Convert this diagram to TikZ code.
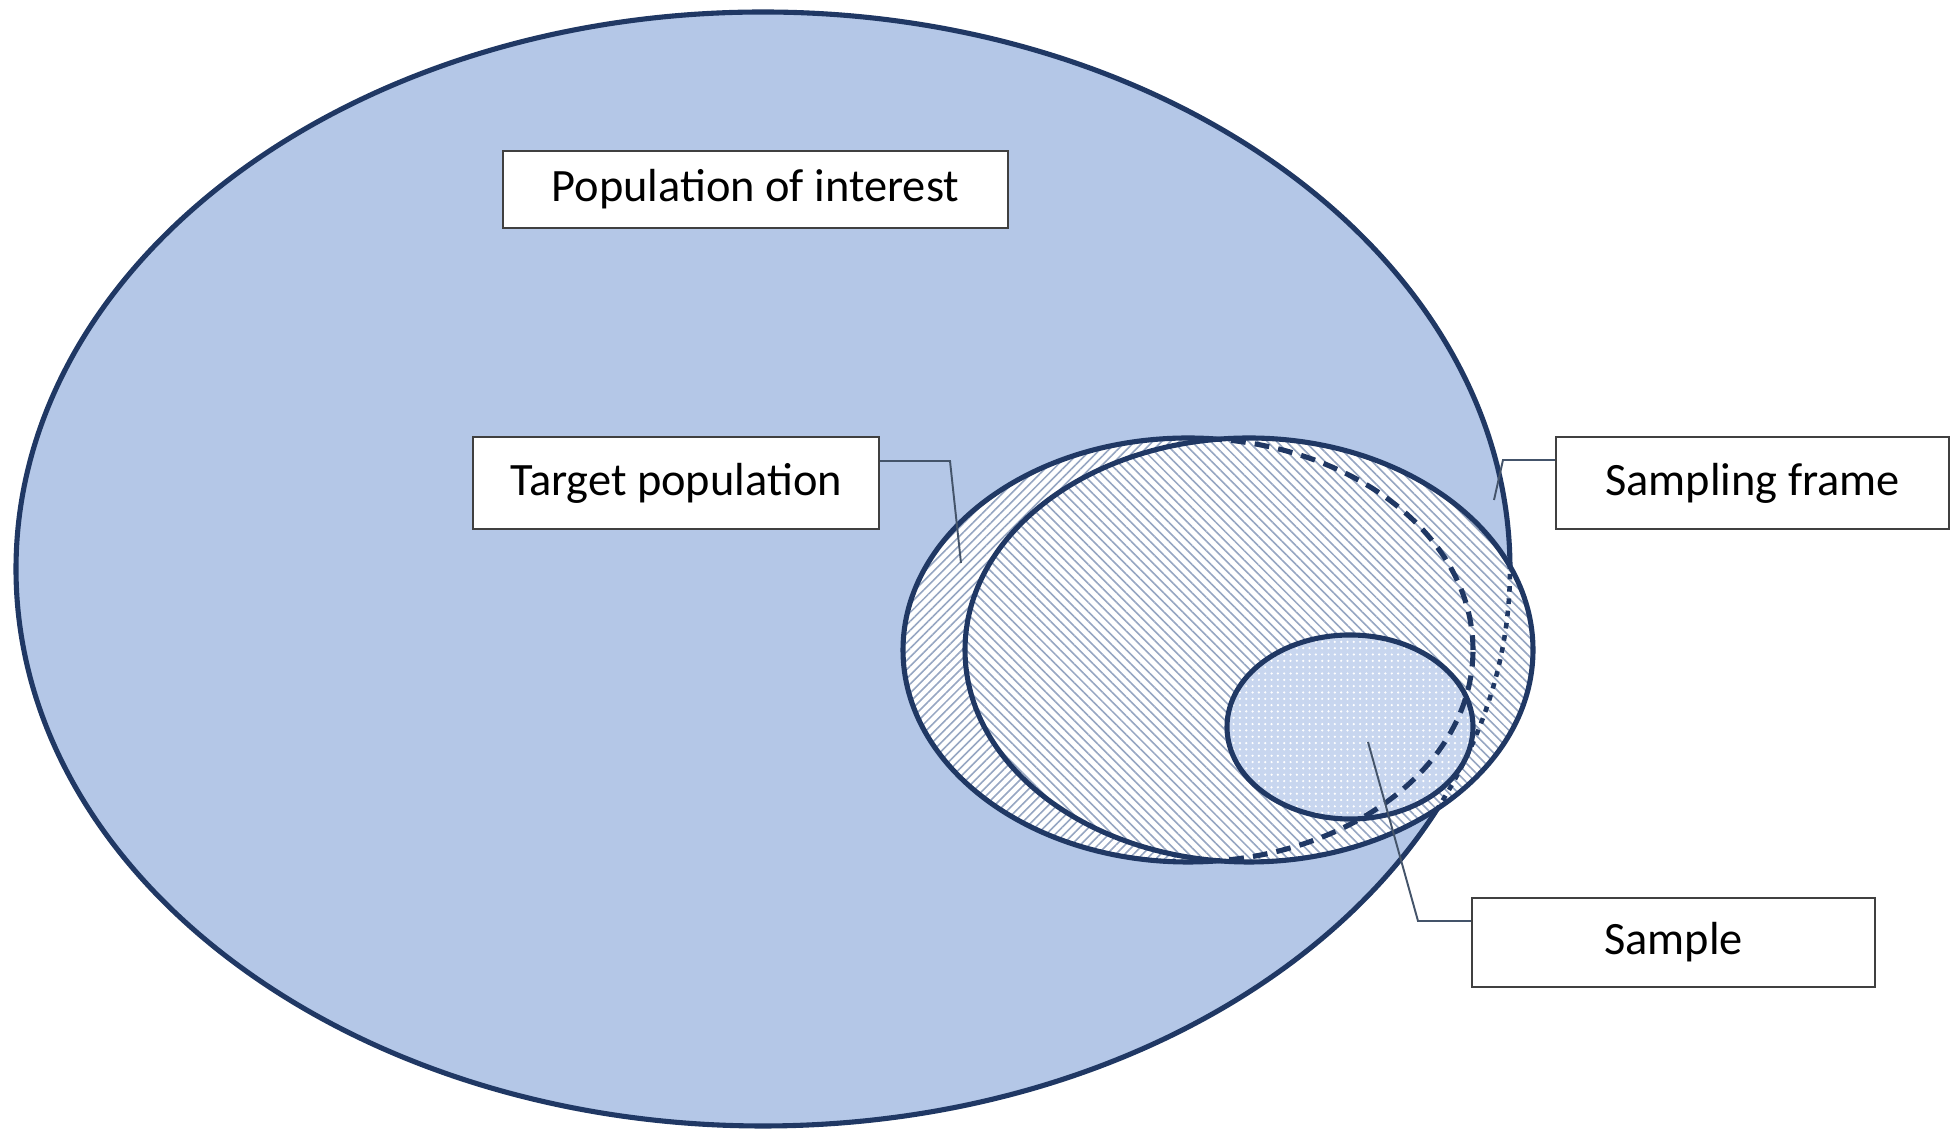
\documentclass[tikz,border=0pt]{standalone}
\usepackage{fontspec}
\setmainfont{Carlito}
\usetikzlibrary{patterns.meta}
\definecolor{popfill}{RGB}{180,199,231}
\definecolor{navy}{RGB}{32,56,100}
\definecolor{hatch}{RGB}{150,166,194}
\definecolor{samplefill}{RGB}{200,214,239}
\definecolor{leadgray}{RGB}{68,84,106}
\definecolor{boxline}{RGB}{64,64,64}
\tikzset{
  outline/.style={draw=navy, line width=1.45pt},
  labelbox/.style={draw=boxline, line width=0.7pt, fill=white, inner sep=0pt,
    font=\fontsize{13.2}{15}\selectfont, text=black},
  leader/.style={draw=leadgray, line width=0.55pt},
  tgthatch/.style={pattern={Lines[angle=45,distance=1.8pt,line width=0.45pt]}, pattern color=hatch},
  sfhatch/.style={pattern={Lines[angle=-45,distance=1.9pt,line width=0.45pt]}, pattern color=hatch},
  sampdots/.style={pattern={Dots[radius=0.35pt,distance=1.8pt]}, pattern color=white},
  hiddendash/.style={draw=navy, line width=1.45pt, dash pattern=on 4.2pt off 2.6pt},
  hiddendot/.style={draw=navy, line width=1.3pt, dash pattern=on 1.6pt off 1.9pt},
}
\begin{document}
\begin{tikzpicture}[x=0.1mm,y=-0.1mm]
\useasboundingbox (0,0) rectangle (1952,1129);
% population of interest
\path[fill=popfill] (763,569) ellipse [x radius=74.7mm, y radius=55.7mm];
\path[outline] (763,569) ellipse [x radius=74.7mm, y radius=55.7mm];
% target population
\path[fill=white] (1188,650) ellipse [x radius=28.5mm, y radius=21.2mm];
\path[tgthatch] (1188,650) ellipse [x radius=28.5mm, y radius=21.2mm];
\path[outline] (1188,650) ellipse [x radius=28.5mm, y radius=21.2mm];
% sampling frame
\path[fill=white] (1249,650) ellipse [x radius=28.4mm, y radius=21.2mm];
\path[sfhatch] (1249,650) ellipse [x radius=28.4mm, y radius=21.2mm];
% sample fill
\path[fill=samplefill] (1350,727) ellipse [x radius=12.3mm, y radius=9.2mm];
\path[sampdots] (1350,727) ellipse [x radius=12.3mm, y radius=9.2mm];
% hidden lines inside sampling frame
\begin{scope}
  \clip (1249,650) ellipse [x radius=28.4mm, y radius=21.2mm];
  \path[hiddendash] (1188,650) ellipse [x radius=28.5mm, y radius=21.2mm];
  \path[hiddendot] (763,569) ellipse [x radius=74.7mm, y radius=55.7mm];
\end{scope}
\path[outline] (1249,650) ellipse [x radius=28.4mm, y radius=21.2mm];
\path[outline] (1350,727) ellipse [x radius=12.3mm, y radius=9.2mm];
% label boxes
\node[labelbox, minimum width=50.5mm, minimum height=7.7mm] (popbox) at (755.5,189.5) {Population of interest};
\node[labelbox, minimum width=40.6mm, minimum height=9.2mm] (tgtbox) at (676,483) {Target population};
\node[labelbox, minimum width=39.3mm, minimum height=9.2mm] (sfbox) at (1752.5,483) {Sampling frame};
\node[labelbox, minimum width=40.3mm, minimum height=8.9mm] (sampbox) at (1673.5,942.5) {Sample};
% leader lines
\coordinate (tgtA) at (950,461);
\coordinate (tgtB) at (961,563);
\coordinate (sfA) at (1503,460);
\coordinate (sfB) at (1494,500);
\coordinate (sampA) at (1418,921);
\coordinate (sampB) at (1368,742);
\draw[leader] (tgtbox.east |- tgtA) -- (tgtA) -- (tgtB);
\draw[leader] (sfbox.west |- sfA) -- (sfA) -- (sfB);
\draw[leader] (sampbox.west |- sampA) -- (sampA) -- (sampB);
\end{tikzpicture}
\end{document}
